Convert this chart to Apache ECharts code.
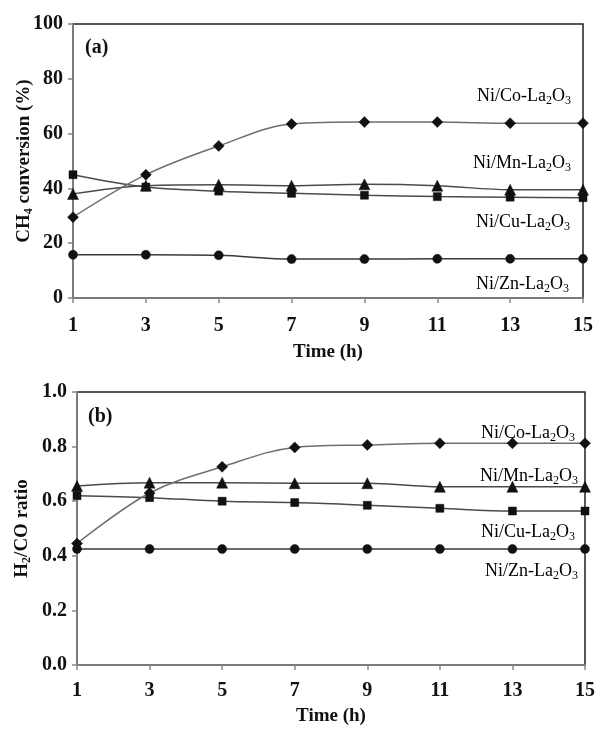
<!DOCTYPE html>
<html>
<head>
<meta charset="utf-8">
<script src="https://cdn.jsdelivr.net/npm/echarts@6/dist/echarts.min.js"></script>
<style>
  html, body { margin: 0; padding: 0; background: #fff; }
  #chart { width: 597px; height: 736px; }
</style>
</head>
<body>
<div id="chart"></div>
<script>
// time on stream (h)
var timeH = [1, 3, 5, 7, 9, 11, 13, 15];

// (a) CH4 conversion (%)
var ch4Co = [29.5, 45, 55.5, 63.5, 64.2, 64.2, 63.8, 63.8];
var ch4Mn = [38, 41, 41.3, 41, 41.5, 41, 39.5, 39.5];
var ch4Cu = [45, 40.5, 39, 38.2, 37.5, 37, 36.8, 36.6];
var ch4Zn = [15.8, 15.8, 15.6, 14.2, 14.2, 14.3, 14.3, 14.3];

// (b) H2/CO ratio
var ratioCo = [0.445, 0.63, 0.726, 0.797, 0.806, 0.812, 0.812, 0.812];
var ratioMn = [0.656, 0.668, 0.668, 0.666, 0.666, 0.653, 0.653, 0.653];
var ratioCu = [0.62, 0.613, 0.6, 0.595, 0.585, 0.574, 0.564, 0.564];
var ratioZn = [0.425, 0.425, 0.425, 0.425, 0.425, 0.425, 0.425, 0.425];

var serif = '"Liberation Serif", "DejaVu Serif", serif';

function pairs(ys) {
  return timeH.map(function (t, i) { return [t, ys[i]]; });
}

var subRich = {
  n: { fontFamily: serif, fontSize: 18, color: '#111', lineHeight: 21 },
  s: { fontFamily: serif, fontSize: 12, color: '#111', lineHeight: 6, verticalAlign: 'bottom' }
};
var boldRich = {
  b: { fontFamily: serif, fontSize: 19, fontWeight: 'bold', color: '#111', lineHeight: 22 },
  bs: { fontFamily: serif, fontSize: 12, fontWeight: 'bold', color: '#111', lineHeight: 6, verticalAlign: 'bottom' }
};

function catName(c) {
  return '{n|Ni/' + c + '-La}{s|2}{n|O}{s|3}';
}

var markers = {
  Co: { symbol: 'diamond', size: 11, line: '#6e6e6e' },
  Mn: { symbol: 'triangle', size: 11, line: '#4a4a4a' },
  Cu: { symbol: 'rect', size: 8, line: '#4a4a4a' },
  Zn: { symbol: 'circle', size: 9, line: '#3a3a3a' }
};

function makeSeries(c, ys, idx) {
  return {
    name: c + idx,
    type: 'line',
    xAxisIndex: idx,
    yAxisIndex: idx,
    data: pairs(ys),
    smooth: 0.35,
    symbol: markers[c].symbol,
    symbolSize: markers[c].size,
    showSymbol: true,
    itemStyle: { color: '#111', borderColor: '#111', borderWidth: 0.5 },
    lineStyle: { color: markers[c].line, width: 1.5 },
    z: c === 'Co' ? 3 : 2,
    animation: false
  };
}

var chart = echarts.init(document.getElementById('chart'));

function xAxisCfg(gridIndex, margin, gap) {
  return {
    gridIndex: gridIndex,
    type: 'value',
    min: 1, max: 15, interval: 2,
    name: 'Time (h)',
    nameLocation: 'middle',
    nameGap: gap,
    nameMoveOverlap: false,
    nameTextStyle: { fontFamily: serif, fontSize: 19, fontWeight: 'bold', color: '#111' },
    axisLine: { lineStyle: { color: '#888', width: 1.5 } },
    axisTick: { show: true, length: 5, inside: false, lineStyle: { color: '#888', width: 1.5 } },
    axisLabel: { fontFamily: serif, fontSize: 20, fontWeight: 'bold', color: '#111', margin: margin },
    splitLine: { show: false }
  };
}

function yAxisCfg(gridIndex, min, max, interval, name, gap, fmt) {
  return {
    gridIndex: gridIndex,
    type: 'value',
    min: min, max: max, interval: interval,
    name: name,
    nameLocation: 'middle',
    nameGap: gap,
    nameRotate: 90,
    nameMoveOverlap: false,
    nameTextStyle: { rich: boldRich },
    axisLine: { show: true, lineStyle: { color: '#888', width: 1.5 } },
    axisTick: { show: true, length: 5, lineStyle: { color: '#888', width: 1.5 } },
    axisLabel: { fontFamily: serif, fontSize: 20, fontWeight: 'bold', color: '#111', margin: 10, formatter: fmt },
    splitLine: { show: false }
  };
}

var labelsA = [
  { c: 'Co', x: 571, y: 96 },
  { c: 'Mn', x: 571, y: 163 },
  { c: 'Cu', x: 570, y: 222 },
  { c: 'Zn', x: 569, y: 284 }
];
var labelsB = [
  { c: 'Co', x: 575, y: 433 },
  { c: 'Mn', x: 578, y: 476 },
  { c: 'Cu', x: 575, y: 532 },
  { c: 'Zn', x: 578, y: 571 }
];

function labelGraphic(l) {
  return {
    type: 'text',
    x: l.x, y: l.y,
    z: 100,
    style: {
      text: catName(l.c),
      rich: subRich,
      align: 'right',
      verticalAlign: 'middle'
    }
  };
}

var option = {
  backgroundColor: '#fff',
  animation: false,
  grid: [
    { left: 73, right: 14, top: 24, height: 274, show: true, borderColor: '#222', borderWidth: 1.5, backgroundColor: 'transparent', outerBoundsMode: 'none', containLabel: false },
    { left: 77, right: 12, top: 392, height: 273, show: true, borderColor: '#222', borderWidth: 1.5, backgroundColor: 'transparent', outerBoundsMode: 'none', containLabel: false }
  ],
  xAxis: [xAxisCfg(0, 18, 45), xAxisCfg(1, 16, 42)],
  yAxis: [
    yAxisCfg(0, 0, 100, 20, '{b|CH}{bs|4}{b| conversion (%)}', 38, null),
    yAxisCfg(1, 0, 1, 0.2, '{b|H}{bs|2}{b|/CO ratio}', 44, function (v) { return v.toFixed(1); })
  ],
  series: [
    makeSeries('Co', ch4Co, 0),
    makeSeries('Mn', ch4Mn, 0),
    makeSeries('Cu', ch4Cu, 0),
    makeSeries('Zn', ch4Zn, 0),
    makeSeries('Co', ratioCo, 1),
    makeSeries('Mn', ratioMn, 1),
    makeSeries('Cu', ratioCu, 1),
    makeSeries('Zn', ratioZn, 1)
  ],
  graphic: [
    { type: 'text', x: 85, y: 48, style: { text: '(a)', font: 'bold 20px ' + serif, fill: '#111', verticalAlign: 'middle' } },
    { type: 'text', x: 88, y: 417, style: { text: '(b)', font: 'bold 20px ' + serif, fill: '#111', verticalAlign: 'middle' } }
  ].concat(labelsA.map(labelGraphic)).concat(labelsB.map(labelGraphic))
};

chart.setOption(option);
</script>
</body>
</html>
